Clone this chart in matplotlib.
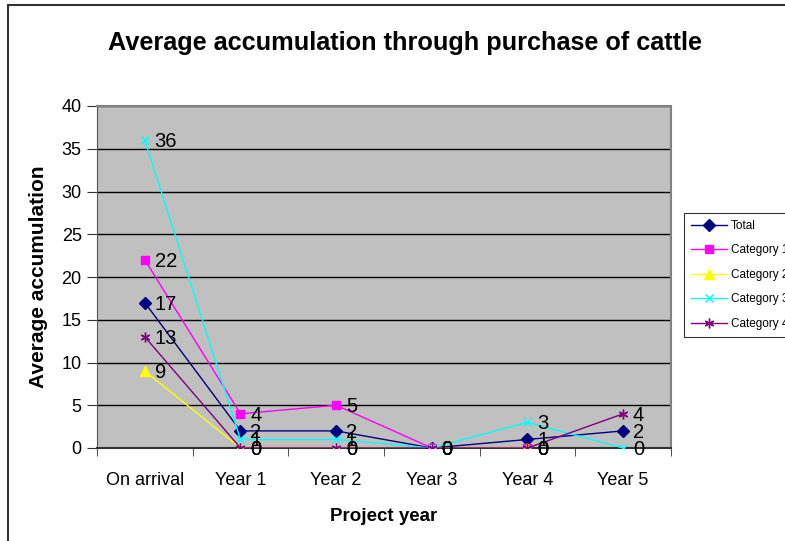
import matplotlib
matplotlib.use("Agg")
import matplotlib.pyplot as plt
from matplotlib.patches import Rectangle
import numpy as np

plt.rcParams["font.family"] = ["Liberation Sans", "DejaVu Sans"]

categories = ["On arrival", "Year 1", "Year 2", "Year 3", "Year 4", "Year 5"]
total = [17, 2, 2, 0, 1, 2]
category_1 = [22, 4, 5, 0, 0, None]
category_2 = [9, 0, 0, 0, 0, None]
category_3 = [36, 1, 1, 0, 3, 0]
category_4 = [13, 0, 0, 0, 0, 4]

series = [
    ("Total", total, "#000080", "D", 6),
    ("Category 1", category_1, "#FF00FF", "s", 6),
    ("Category 2", category_2, "#FFFF00", "^", 7),
    ("Category 3", category_3, "#00FFFF", "x", 6),
    ("Category 4", category_4, "#800080", (6, 2, 0), 7),
]

fig = plt.figure(figsize=(7.85, 5.41), dpi=100)

# outer chart frame (runs off the right and bottom edges)
fig.patches.append(Rectangle((7.5 / 785, -0.05), 1.2, 1 - 5 / 541 + 0.05,
                             transform=fig.transFigure, fill=False,
                             edgecolor="#333333", linewidth=1.5))

ax = fig.add_axes([97 / 785, 93 / 541, 574 / 785, 342 / 541])
ax.set_facecolor("#C0C0C0")

x = np.arange(len(categories))
for name, vals, color, marker, ms in series:
    y = np.array([np.nan if v is None else v for v in vals], dtype=float)
    ax.plot(x, y, color=color, linewidth=1, marker=marker, markersize=ms,
            markeredgewidth=1, label=name, zorder=3)
    for xi, v in zip(x, vals):
        if v is None:
            continue
        ax.annotate(str(v), (xi, v), xytext=(7, -1), textcoords="offset points",
                    fontsize=14.5, va="center", ha="left", color="black", zorder=4)

ax.set_xlim(-0.5, len(categories) - 0.5)
ax.set_ylim(0, 40)
ax.set_yticks(np.arange(0, 41, 5))
ax.set_xticks(x)
ax.set_xticklabels(categories, fontsize=13)
ax.set_xticks(np.arange(-0.5, len(categories), 1), minor=True)
ax.tick_params(axis="x", which="major", length=0, pad=17)
ax.tick_params(axis="x", which="minor", length=6, direction="out", color="#333333")
ax.tick_params(axis="y", labelsize=13, length=7, pad=4, direction="out", color="#333333")
ax.grid(axis="y", color="black", linewidth=1)
ax.set_axisbelow(True)

for side in ["top", "right"]:
    ax.spines[side].set_color("#808080")
    ax.spines[side].set_linewidth(1.5)
ax.spines["left"].set_color("#555555")
ax.spines["bottom"].set_color("#333333")
ax.spines["bottom"].set_linewidth(1.5)

ax.set_xlabel("Project year", fontsize=13.5, fontweight="bold", labelpad=14)
ax.set_ylabel("Average accumulation", fontsize=15, fontweight="bold", labelpad=10)

fig.text(405 / 785, 1 - 43 / 541, "Average accumulation through purchase of cattle",
         ha="center", va="center", fontsize=18.2, fontweight="bold")

leg = fig.legend(loc="upper left", bbox_to_anchor=(684 / 785, 1 - 213 / 541),
                 fontsize=8.5, frameon=True, fancybox=False, handlelength=3,
                 borderpad=0.6, labelspacing=1.05, handletextpad=0.4,
                 borderaxespad=0)
leg.get_frame().set_edgecolor("black")
leg.get_frame().set_linewidth(0.8)

fig.savefig("out.png", dpi=100)
